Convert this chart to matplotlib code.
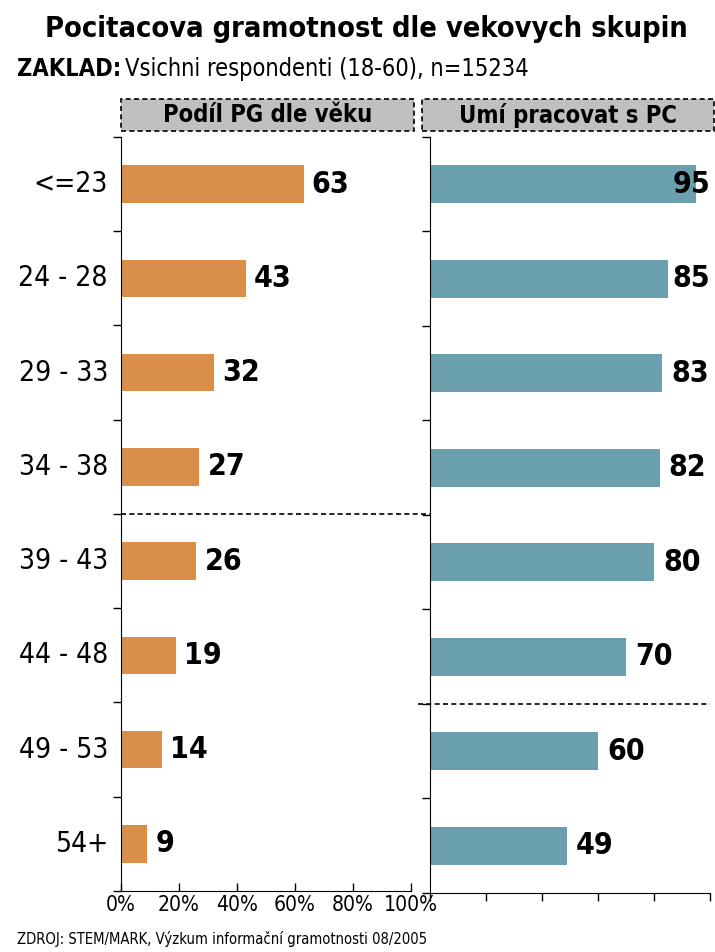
import matplotlib
matplotlib.use('Agg')
import matplotlib.pyplot as plt
from matplotlib.patches import Rectangle

plt.rcParams['font.family'] = ['DejaVu Sans']
plt.rcParams['font.stretch'] = 'condensed'

# data
age_groups = ['<=23', '24 - 28', '29 - 33', '34 - 38', '39 - 43', '44 - 48', '49 - 53', '54+']
pc_gramotnost = [63, 43, 32, 27, 26, 19, 14, 9]
umi_pracovat = [95, 85, 83, 82, 80, 70, 60, 49]
xticks = [0, 20, 40, 60, 80, 100]
xtick_labels = ['0%', '20%', '40%', '60%', '80%', '100%']

orange = '#D98E4A'
teal = '#6A9FAD'

fig = plt.figure(figsize=(7.15, 9.52), dpi=100)
r = fig.canvas.get_renderer()


def fit(texts, max_w):
    # shrink a group of texts so the widest one is max_w pixels
    w = max(t.get_window_extent(renderer=r).width for t in texts)
    if w > max_w:
        for t in texts:
            t.set_fontsize(t.get_fontsize() * max_w / w)


ax1 = fig.add_axes([0.1692, 0.0641, 0.4056, 0.7920])
ax2 = fig.add_axes([0.6014, 0.0620, 0.3916, 0.7941])

ypos = list(range(len(age_groups)))


def style(ax, labels_on):
    ax.set_xlim(0, 100)
    ax.set_ylim(len(age_groups) - 0.5, -0.5)
    for s in ['top', 'right']:
        ax.spines[s].set_visible(False)
    ax.set_yticks([y - 0.5 for y in range(len(age_groups) + 1)])
    ax.set_yticklabels([])
    ax.tick_params(axis='y', length=6, width=1, direction='out')
    ax.set_xticks(xticks)
    if labels_on:
        ax.set_xticklabels(xtick_labels, fontsize=21)
        ax.tick_params(axis='x', length=6, width=1, direction='in', pad=3)
    else:
        ax.set_xticklabels([])
        ax.tick_params(axis='x', length=6, width=1, direction='out')


style(ax1, True)
style(ax2, False)
fit(ax1.get_xticklabels(), 54)

ax1.barh(ypos, pc_gramotnost, height=0.4, color=orange)
ax2.barh(ypos, umi_pracovat, height=0.4, color=teal)

ylabs = [ax1.text(-4.5, y, lab, ha='right', va='center', fontsize=26)
         for y, lab in zip(ypos, age_groups)]
fit(ylabs, 90)

vals = []
for y, v in zip(ypos, pc_gramotnost):
    vals.append(ax1.text(v + 2.8, y, str(v), ha='left', va='center', fontsize=24, fontweight='bold'))
for y, v in zip(ypos, umi_pracovat):
    vals.append(ax2.text(min(v + 3.2, 86.5), y, str(v), ha='left', va='center', fontsize=24, fontweight='bold'))
fit(vals, 38)

# dashed separators
ax1.plot([0, 106.5], [3.5, 3.5], ls=(0, (3, 2)), color='black', lw=1.2, clip_on=False)
ax2.plot([-4.3, 100], [5.5, 5.5], ls=(0, (3, 2)), color='black', lw=1.2, clip_on=False)

# panel headers
heads = []
for x0, w, txt in [(0.1692, 0.4098, 'Podíl PG dle věku'), (0.5902, 0.4084, 'Umí pracovat s PC')]:
    fig.patches.append(Rectangle((x0, 0.8624), w, 0.0336, transform=fig.transFigure,
                                 facecolor='#C0C0C0', edgecolor='black', lw=1.2,
                                 ls=(0, (3, 2)), clip_on=False))
    heads.append(fig.text(x0 + w / 2, 0.8624 + 0.0168, txt, ha='center', va='center',
                          fontsize=22, fontweight='bold'))
fit(heads, 218)

title = fig.text(0.513, 0.970, 'Pocitacova gramotnost dle vekovych skupin', ha='center',
                 va='center', fontsize=30, fontweight='bold')
fit([title], 645)

t = fig.text(0.024, 0.928, 'ZAKLAD:', ha='left', va='center', fontsize=20, fontweight='bold')
sub = fig.text(0.1, 0.928, 'Vsichni respondenti (18-60), n=15234', ha='left', va='center', fontsize=20)
bb = t.get_window_extent(renderer=r)
sub.set_x((bb.x1 + 4) / fig.bbox.width)
tot = sub.get_window_extent(renderer=r).x1 - bb.x0
if tot > 513:
    t.set_fontsize(t.get_fontsize() * 513 / tot)
    sub.set_fontsize(sub.get_fontsize() * 513 / tot)
    bb = t.get_window_extent(renderer=r)
    sub.set_x((bb.x1 + 4) / fig.bbox.width)

foot = fig.text(0.024, 0.005, 'ZDROJ: STEM/MARK, Výzkum informační gramotnosti 08/2005',
                ha='left', va='bottom', fontsize=15)
fit([foot], 413)

fig.savefig('out.png', dpi=100)
